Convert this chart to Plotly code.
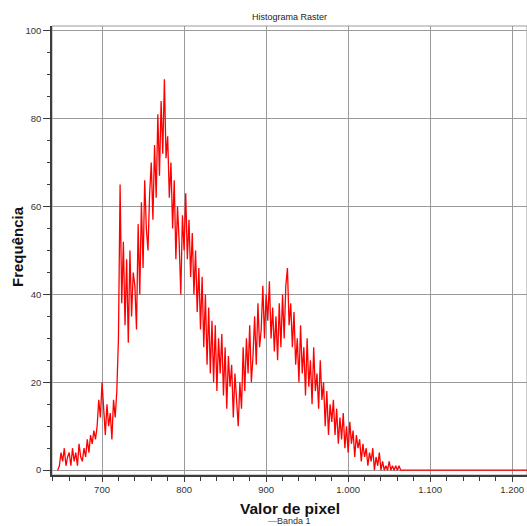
import plotly.graph_objects as go

# Histogram bins (pixel value, bin width 2)
bin_start = 646
bin_width = 2
freq = [
    0, 1, 4, 2, 5, 1, 3, 4, 1, 5, 2, 4, 1, 6, 3, 2, 5, 3, 7, 4,      # 646-684
    8, 6, 9, 7, 10, 16, 12, 20, 14, 8, 15, 10, 13, 7, 16, 12, 18, 30, 65, 38,  # 686-724
    52, 33, 48, 29, 50, 35, 45, 42, 32, 56, 40, 61, 46, 66, 55, 50, 63, 70, 57, 74,  # 726-764
    62, 81, 67, 84, 72, 89, 71, 76, 62, 70, 55, 66, 48, 60, 52, 40, 58, 50, 63, 48,  # 766-804
    57, 44, 54, 40, 50, 36, 46, 32, 44, 28, 40, 24, 37, 22, 34, 20, 33, 18, 30, 22,  # 806-844
    31, 17, 28, 14, 26, 19, 24, 12, 22, 15, 10, 20, 14, 28, 18, 30, 22, 33, 20, 26,  # 846-884
    35, 24, 38, 28, 32, 42, 30, 40, 34, 43, 30, 37, 27, 35, 25, 38, 28, 40, 30, 42,  # 886-924
    46, 33, 38, 28, 36, 24, 30, 20, 33, 22, 28, 17, 30, 19, 25, 15, 28, 18, 22, 14,  # 926-964
    25, 16, 20, 10, 18, 8, 15, 11, 16, 8, 14, 6, 12, 7, 13, 5, 10, 4, 11, 6,  # 966-1004
    9, 3, 8, 5, 7, 2, 6, 3, 5, 1, 4, 2, 5, 0, 3, 1, 4, 0, 2, 0,  # 1006-1044
    1, 0, 2, 0, 1, 0, 1, 0, 1, 0,  # 1046-1064
]
tail_zero_bins = 77  # empty bins from 1066 up to the right edge

x_range = [639, 1218]
y_range = [-1.1, 101.1]
x_major = [700, 800, 900, 1000, 1100, 1200]
y_major = [0, 20, 40, 60, 80, 100]

title_text = "Histograma Raster"
x_title = "Valor de pixel"
y_title = "Frequência"
series_name = "Banda 1"

values = freq + [0] * tail_zero_bins
xs = [bin_start + i * bin_width for i in range(len(values))]

FONT = "Liberation Sans, Arial, sans-serif"
GRID = "#9a9a9a"
AXIS = "#3c3c3c"

fig = go.Figure()
fig.add_trace(go.Scatter(
    x=xs, y=values, mode="lines", name=series_name,
    line=dict(color="#ff0000", width=1.3), showlegend=False,
))

fig.update_layout(
    width=527, height=526,
    margin=dict(l=52, r=0, t=26, b=51, autoexpand=False),
    paper_bgcolor="white", plot_bgcolor="white",
    separators=",.",
    font=dict(family=FONT, size=9, color="#222"),
    title=dict(text=title_text, x=0.5, xref="paper", y=1 - 17 / 526,
               yanchor="middle", xanchor="center",
               font=dict(family=FONT, size=9, color="#222")),
    showlegend=False,
)

fig.update_xaxes(
    range=x_range, tickvals=x_major, tickformat=",d",
    showgrid=True, gridcolor=GRID, gridwidth=1,
    zeroline=False, showline=True, linecolor=AXIS, linewidth=1.5,
    ticks="outside", ticklen=5, tickcolor=AXIS, tickwidth=1,
    minor=dict(dtick=20, tick0=0, ticks="outside", ticklen=4, tickcolor=AXIS, showgrid=False),
    tickfont=dict(family=FONT, size=9.5, color="#333"),
)
fig.update_yaxes(
    range=y_range, tickvals=y_major,
    showgrid=True, gridcolor=GRID, gridwidth=1,
    zeroline=False, showline=True, linecolor=AXIS, linewidth=1.5,
    ticks="outside", ticklen=7, tickcolor=AXIS, tickwidth=1,
    minor=dict(dtick=5, tick0=0, ticks="outside", ticklen=3, tickcolor=AXIS, showgrid=False),
    tickfont=dict(family=FONT, size=9.5, color="#333"),
)

# frame around plot area
fig.add_shape(type="rect", xref="paper", yref="paper", x0=0, y0=0, x1=1, y1=1,
              line=dict(color=GRID, width=1), layer="below")

fig.add_annotation(text=f"<b>{x_title}</b>", xref="paper", yref="paper",
                   x=0.5, y=(475 - 508) / 449, xanchor="center", yanchor="middle",
                   showarrow=False, font=dict(family=FONT, size=15.5, color="#111"))
fig.add_annotation(text=f"<b>{y_title}</b>", xref="paper", yref="paper",
                   x=(17 - 52) / 475, y=(475 - 247) / 449, xanchor="center", yanchor="middle",
                   textangle=-90, showarrow=False, font=dict(family=FONT, size=15, color="#111"))
fig.add_annotation(text=f"<span style='color:#ff0000'>—</span>{series_name}", xref="paper", yref="paper",
                   x=0.5, y=(475 - 521) / 449, xanchor="center", yanchor="middle",
                   showarrow=False, font=dict(family=FONT, size=9, color="#333"))

fig.write_html(
    "out.html",
    config={"displayModeBar": False},
    post_script="document.body.style.margin='0';document.body.style.padding='0';document.body.style.overflow='hidden';",
)
